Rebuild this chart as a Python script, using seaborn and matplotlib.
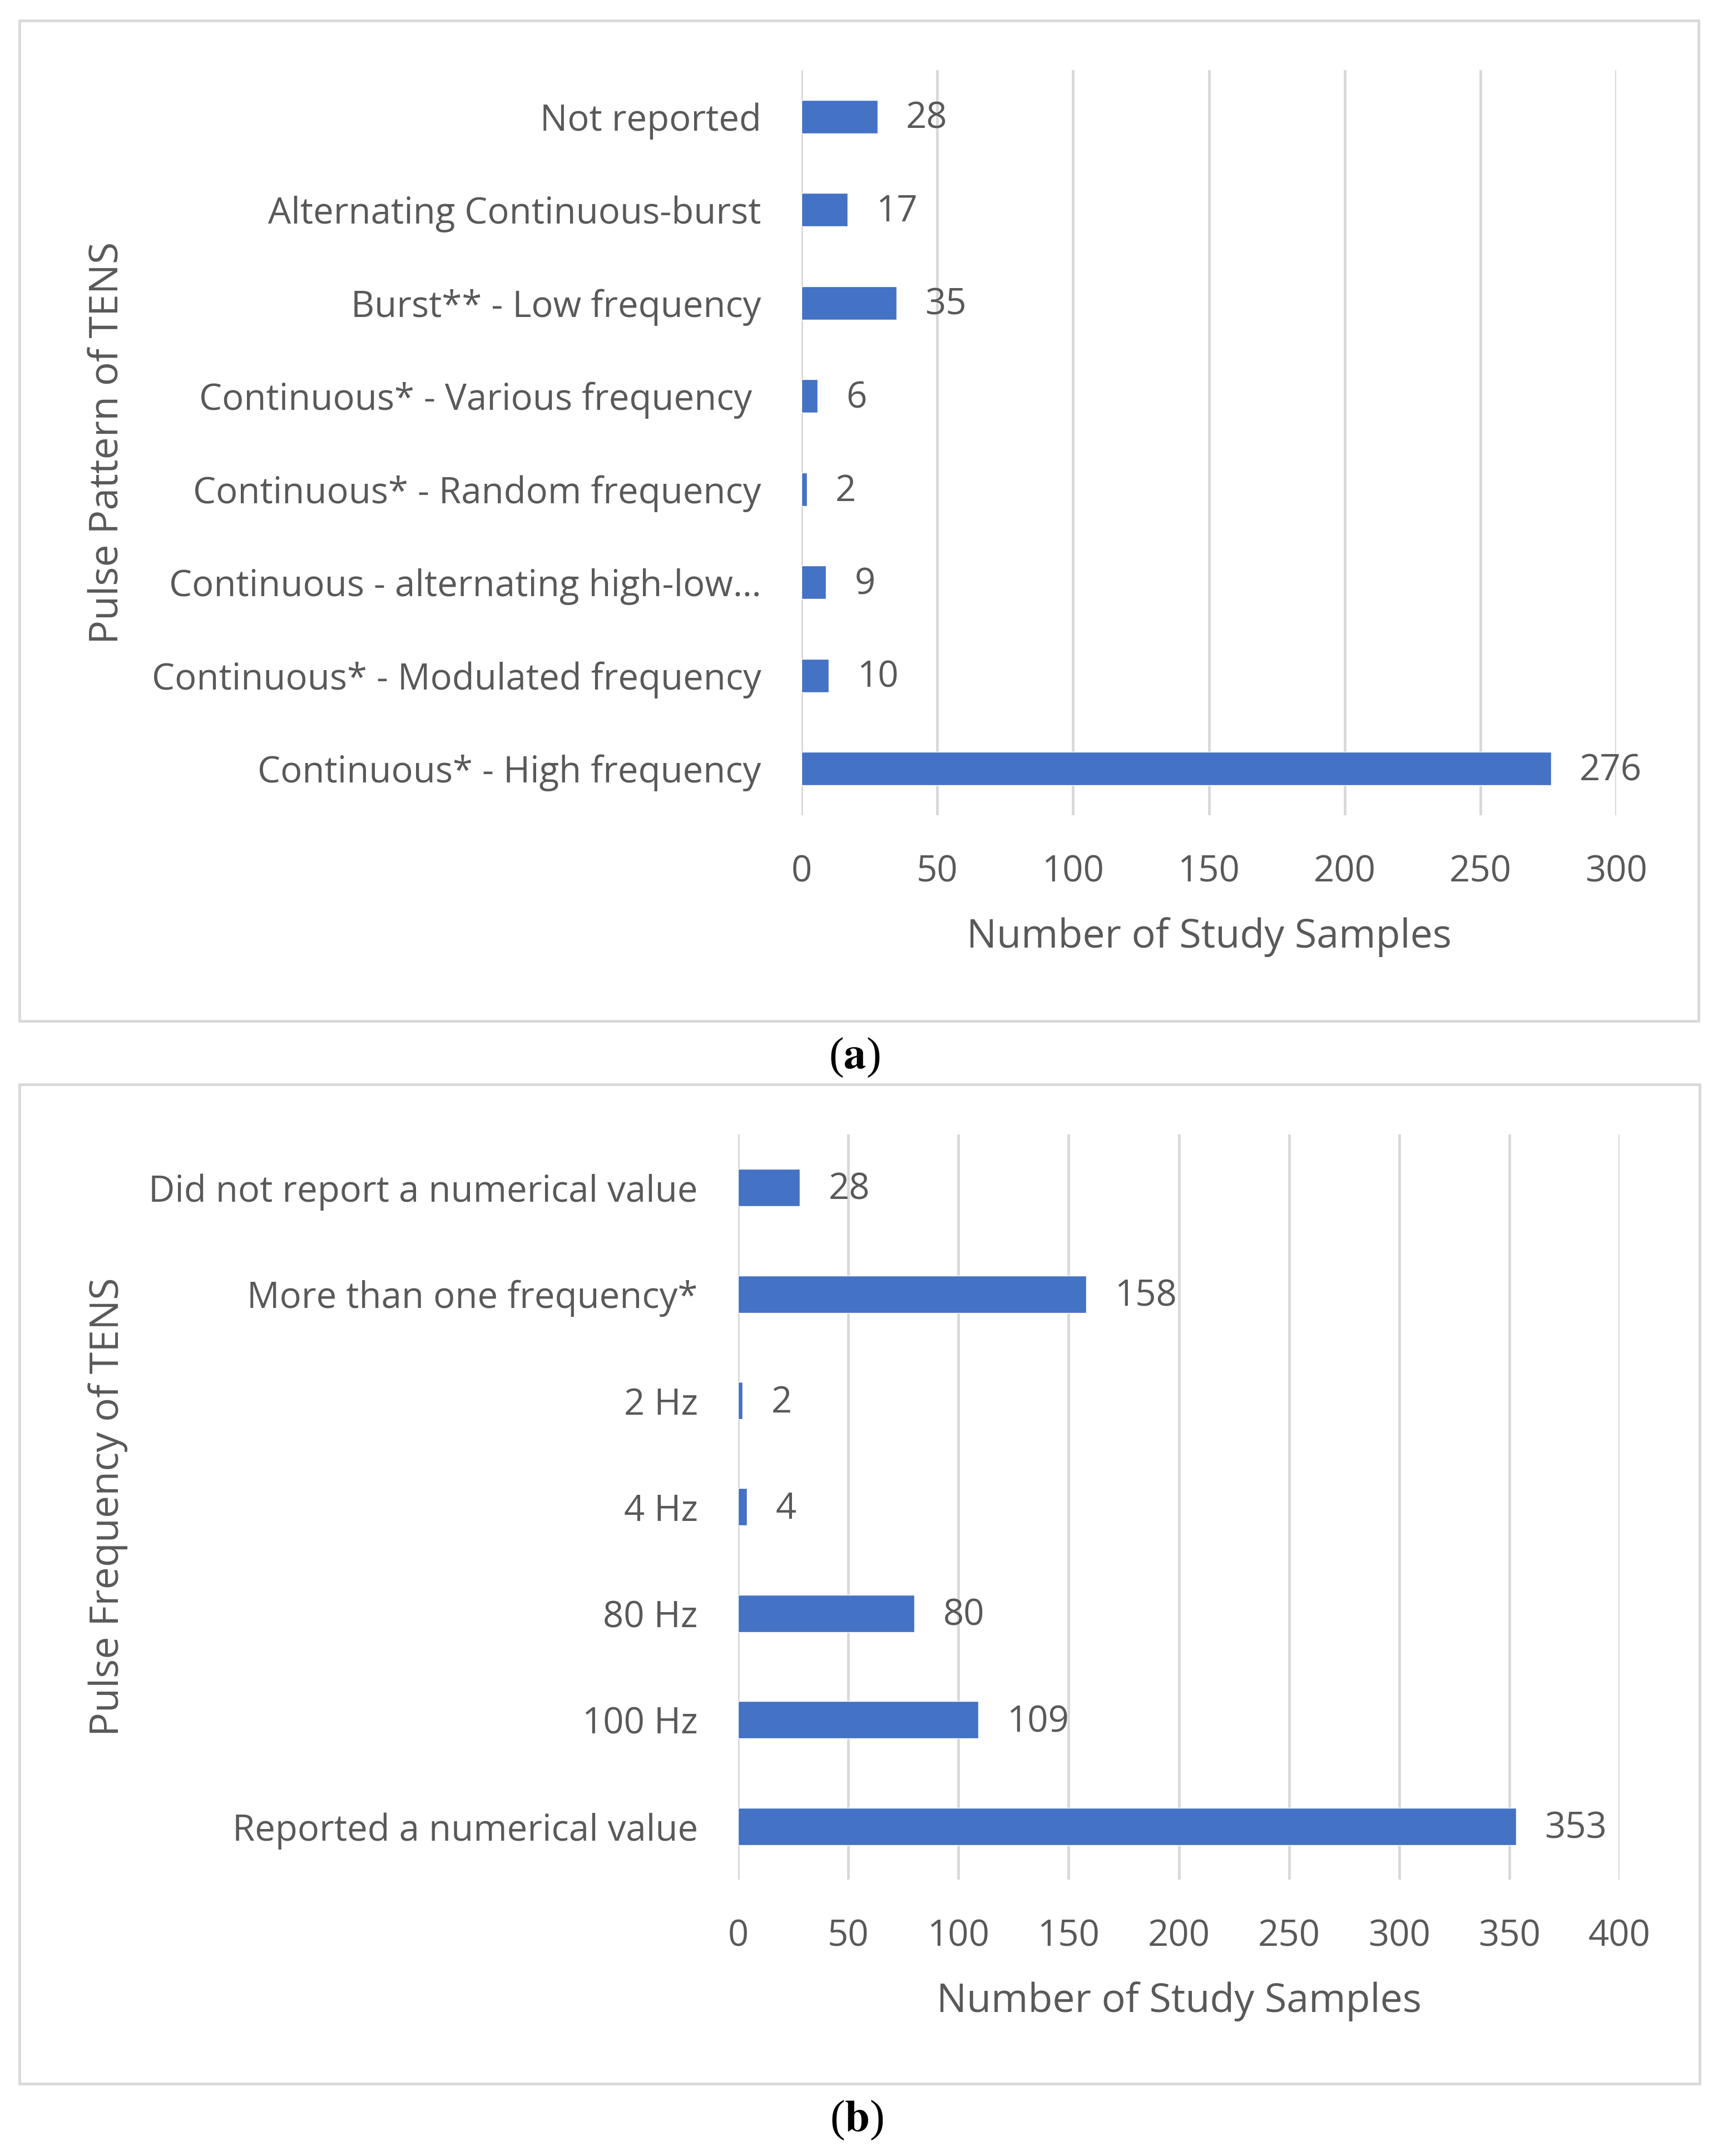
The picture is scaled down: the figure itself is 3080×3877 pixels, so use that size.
import numpy as np
import pandas as pd
import matplotlib
matplotlib.use("Agg")
import matplotlib.pyplot as plt
import seaborn as sns
from matplotlib.patches import Rectangle

# === Data ===
pattern_labels = [
    "Not reported",
    "Alternating Continuous-burst",
    "Burst** - Low frequency",
    "Continuous* - Various frequency ",
    "Continuous* - Random frequency",
    "Continuous - alternating high-low…",
    "Continuous* - Modulated frequency",
    "Continuous* - High frequency",
]
pattern_counts = [28, 17, 35, 6, 2, 9, 10, 276]
pattern_ticks = [0, 50, 100, 150, 200, 250, 300]

freq_labels = [
    "Did not report a numerical value",
    "More than one frequency*",
    "2 Hz",
    "4 Hz",
    "80 Hz",
    "100 Hz",
    "Reported a numerical value",
]
freq_counts = [28, 158, 2, 4, 80, 109, 353]
freq_ticks = [0, 50, 100, 150, 200, 250, 300, 350, 400]

# === Style ===
sns.set_theme(style="white")
plt.rcParams['font.family'] = ['Open Sans', 'DejaVu Sans']
plt.rcParams['mathtext.fontset'] = 'stix'

BAR = "#4472C4"
TXT = "#595959"
GRID = "#D9D9D9"
W, H = 3080, 3877
DPI = 100
FS = 47  # font size in pt


def px_axes(fig, left, top, right, bottom):
    return fig.add_axes([left / W, 1 - bottom / H, (right - left) / W, (bottom - top) / H])


def draw_panel(fig, box, frame, labels, counts, ticks, bar_h, ylab):
    # frame around the panel
    fx0, fy0, fx1, fy1 = frame
    fig.patches.append(Rectangle((fx0 / W, 1 - fy1 / H), (fx1 - fx0) / W, (fy1 - fy0) / H,
                                 transform=fig.transFigure, fill=False,
                                 edgecolor=GRID, linewidth=3.5, zorder=0))
    ax = px_axes(fig, *box)
    df = pd.DataFrame({"label": labels, "count": counts})
    sns.barplot(data=df, x="count", y="label", color=BAR, width=bar_h,
                saturation=1, ax=ax, zorder=3)
    ax.set_xlim(ticks[0], ticks[-1])
    ax.set_ylim(len(labels) - 0.5, -0.5)
    ax.set_xticks(ticks)
    ax.xaxis.grid(True, color=GRID, linewidth=3.5, zorder=0)
    ax.set_axisbelow(True)
    for s in ax.spines.values():
        s.set_visible(False)
    ax.tick_params(axis='both', length=0, labelsize=FS, labelcolor=TXT)
    ax.tick_params(axis='y', pad=52)
    ax.tick_params(axis='x', pad=50)
    # value labels right of each bar
    for i, c in enumerate(counts):
        ax.annotate(str(c), (c, i), xytext=(37, -3), textcoords='offset points',
                    ha='left', va='center', fontsize=FS, color=TXT)
    ax.set_xlabel("Number of Study Samples", fontsize=FS * 1.1, color=TXT, labelpad=34)
    ax.set_ylabel(ylab, fontsize=FS * 1.1, color=TXT, va='center')
    ax.yaxis.set_label_coords(-(box[0] - 194) / (box[2] - box[0]), 0.5)
    return ax


fig = plt.figure(figsize=(W / DPI, H / DPI), dpi=DPI)

draw_panel(fig, (1441, 126, 2906, 1466), (35, 37, 3054, 1836),
           pattern_labels, pattern_counts, pattern_ticks, 0.36, "Pulse Pattern of TENS")
draw_panel(fig, (1327, 2040, 2912, 3380), (35, 1950, 3056, 3747),
           freq_labels, freq_counts, freq_ticks, 0.35, "Pulse Frequency of TENS")

fig.text(1536 / W, 1 - 1902 / H, r"($\mathbf{a}$)", fontsize=58, ha='center', va='center',
         color='black', family='Liberation Serif')
fig.text(1540 / W, 1 - 3813 / H, r"($\mathbf{b}$)", fontsize=58, ha='center', va='center',
         color='black', family='Liberation Serif')

fig.savefig("out.png", dpi=DPI)
